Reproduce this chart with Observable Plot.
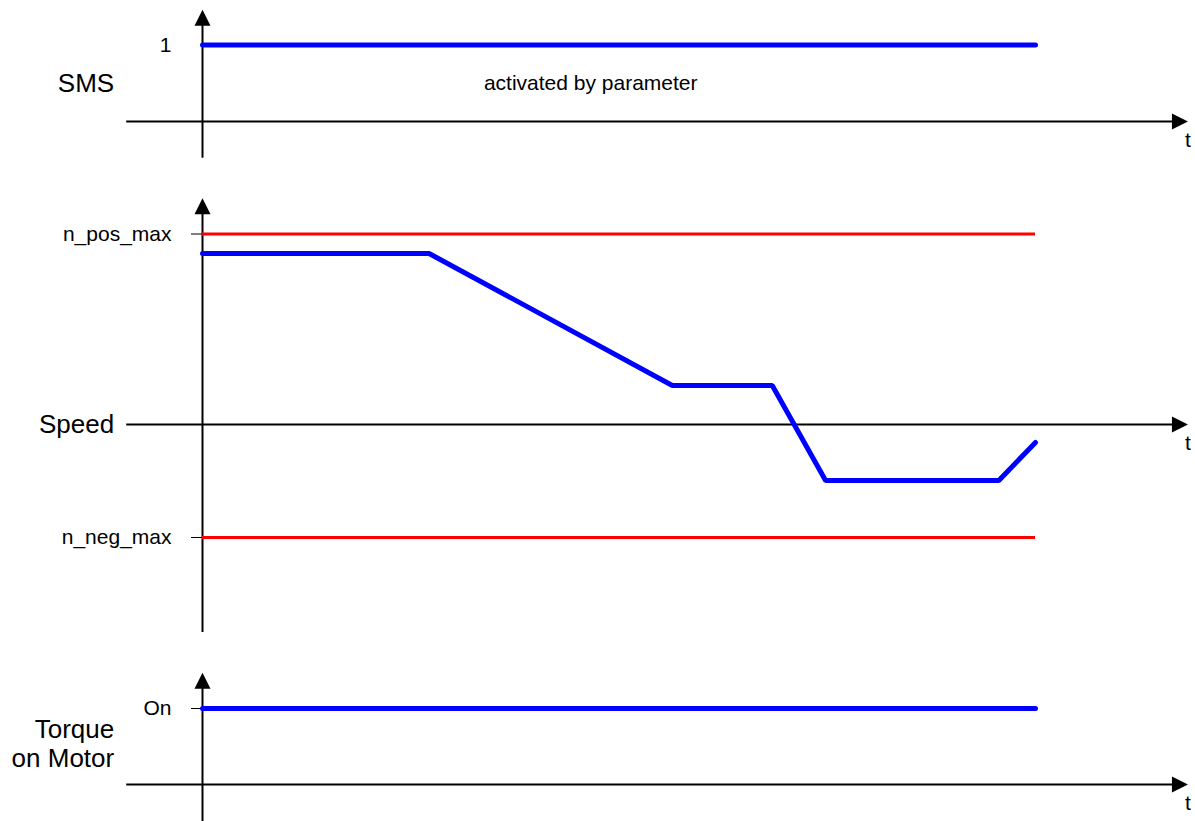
<!DOCTYPE html>
<html>
<head>
<meta charset="utf-8">
<script src="https://cdn.jsdelivr.net/npm/d3@7"></script>
<script src="https://cdn.jsdelivr.net/npm/@observablehq/plot@0.6"></script>
<style>
  html, body { margin: 0; padding: 0; background: #fff; }
  #chart svg { display: block; }
</style>
</head>
<body>
<div id="chart"></div>
<script>
// ---- data ----
const signalNames = ["SMS", "Speed", "Torque\non Motor"];
const smsT = [0, 100];
const smsValue = [1, 1];
const smsTickLabel = "1";
const smsNote = "activated by parameter";

const speedT = [0, 27.2, 56.4, 68.4, 74.8, 95.6, 100];
const speedValue = [89.8, 89.8, 20.5, 20.5, -29.4, -29.4, -9.4];
const speedLimits = [100, -59.3];
const speedLimitLabels = ["n_pos_max", "n_neg_max"];

const torqueT = [0, 100];
const torqueValue = [1, 1];
const torqueTickLabel = "On";

const timeLabel = "t";

// ---- style ----
const W = 1195;
const FONT = "'Liberation Sans', Arial, sans-serif";
const SMALL = 21, BIG = 26;
const BLUE = "#0000ff", RED = "#ff0000";
const X_MIN = -9.1, X_TIP = 118.3, X_LABEL = -10.6;

const arrowHead = {
  draw(ctx) {
    ctx.moveTo(0, 0);
    ctx.lineTo(8, 16);
    ctx.lineTo(-8, 16);
    ctx.closePath();
  }
};

function axesMarks(yLow, yTip) {
  return [
    Plot.ruleY([0], {x1: X_MIN, x2: X_TIP - 1.6, stroke: "black", strokeWidth: 2}),
    Plot.ruleX([0], {y1: yLow, y2: yTip * 0.96, stroke: "black", strokeWidth: 2}),
    Plot.dot([0], {x: X_TIP, y: 0, symbol: arrowHead, rotate: 90, fill: "black", stroke: "none", r: 8}),
    Plot.dot([0], {x: 0, y: yTip, symbol: arrowHead, fill: "black", stroke: "none", r: 8}),
    Plot.text([timeLabel], {x: X_TIP, y: 0, text: d => d, dy: 19, fontSize: SMALL, fill: "black"})
  ];
}

function panel({height, marginTop, marginBottom, domain, marks}) {
  return Plot.plot({
    width: W, height,
    marginLeft: 202, marginRight: 160, marginTop, marginBottom,
    style: {fontFamily: FONT, fontSize: SMALL + "px", background: "white", overflow: "visible", color: "black"},
    x: {domain: [0, 100], axis: null},
    y: {domain, axis: null},
    marks
  });
}

const chart = document.getElementById("chart");

// Panel 1: SMS
const smsData = smsT.map((t, i) => ({t, v: smsValue[i]}));
chart.append(panel({
  height: 175, marginTop: 44.5, marginBottom: 54, domain: [0, 1],
  marks: [
    ...axesMarks(-0.48, 1.46),
    Plot.axisY([1], {anchor: "left", label: null, tickSize: 0, tickPadding: 31, tickFormat: () => smsTickLabel, fontSize: SMALL}),
    Plot.line(smsData, {x: "t", y: "v", stroke: BLUE, strokeWidth: 5, strokeLinecap: "round"}),
    Plot.text([signalNames[0]], {x: X_LABEL, y: 0.5, text: d => d, textAnchor: "end", fontSize: BIG}),
    Plot.text([smsNote], {x: 46.6, y: 0.5, text: d => d, fontSize: SMALL})
  ]
}));

// Panel 2: Speed
const speedData = speedT.map((t, i) => ({t, v: speedValue[i]}));
chart.append(panel({
  height: 475, marginTop: 58.5, marginBottom: 113, domain: [speedLimits[1], speedLimits[0]],
  marks: [
    ...axesMarks(-109.2, 118.7),
    Plot.axisY(speedLimits, {anchor: "left", label: null, tickSize: 11, tickPadding: 20, tickFormat: d => speedLimitLabels[speedLimits.indexOf(d)], fontSize: SMALL}),
    Plot.ruleY(speedLimits, {x1: 0, x2: 100, stroke: RED, strokeWidth: 3}),
    Plot.line(speedData, {x: "t", y: "v", stroke: BLUE, strokeWidth: 5, strokeLinecap: "round", strokeLinejoin: "miter"}),
    Plot.text([signalNames[1]], {x: X_LABEL, y: 0, text: d => d, textAnchor: "end", fontSize: BIG})
  ]
}));

// Panel 3: Torque on Motor
const torqueData = torqueT.map((t, i) => ({t, v: torqueValue[i]}));
chart.append(panel({
  height: 171, marginTop: 58, marginBottom: 37, domain: [0, 1],
  marks: [
    ...axesMarks(-0.6, 1.47),
    Plot.axisY([1], {anchor: "left", label: null, tickSize: 11, tickPadding: 20, tickFormat: () => torqueTickLabel, fontSize: SMALL}),
    Plot.line(torqueData, {x: "t", y: "v", stroke: BLUE, strokeWidth: 5, strokeLinecap: "round"}),
    Plot.text([signalNames[2]], {x: X_LABEL, y: 0.54, text: d => d, textAnchor: "end", lineHeight: 1.12, fontSize: BIG})
  ]
}));
</script>
</body>
</html>
